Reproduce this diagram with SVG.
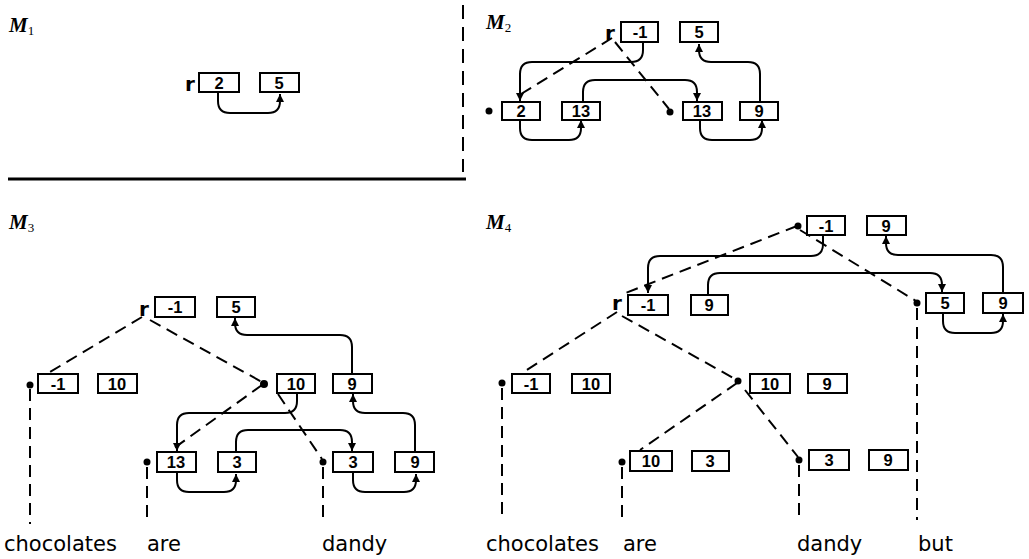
<svg xmlns="http://www.w3.org/2000/svg" width="1029" height="559" viewBox="0 0 1029 559">
<style>
.bx{fill:#fff;stroke:#000;stroke-width:2}
.num{font-family:"Liberation Sans",Arial,sans-serif;font-weight:bold;font-size:16.5px;text-anchor:middle}
.lbl{font-family:"Liberation Serif",serif;font-weight:bold;font-style:italic;font-size:21px}
.sub{font-family:"Liberation Serif",serif;font-size:13px;font-style:normal;font-weight:normal}
.r{font-family:"DejaVu Sans",sans-serif;font-size:20px;font-weight:bold}
.word{font-family:"DejaVu Sans",sans-serif;font-size:21px}
.dash{fill:none;stroke:#000;stroke-width:2;stroke-dasharray:12 7}
.cv{fill:none;stroke:#000;stroke-width:2;marker-end:url(#ah)}
.dot{fill:#000}
</style>
<defs>
<marker id="ah" markerUnits="userSpaceOnUse" markerWidth="9" markerHeight="9" refX="8" refY="4" orient="auto">
<path d="M0,0 L8,4 L0,8 Z" fill="#000"/>
</marker>
</defs>
<rect width="1029" height="559" fill="#fff"/>

<!-- frame lines -->
<g id="frame">
<line x1="8" y1="179" x2="466" y2="179" stroke="#000" stroke-width="3"/>
<line x1="463" y1="5" x2="463" y2="172" stroke="#000" stroke-width="2" stroke-dasharray="14 8"/>
</g>

<!-- panel labels -->
<g id="labels">
<text class="lbl" x="9" y="32">M<tspan class="sub" dy="3">1</tspan></text>
<text class="lbl" x="486" y="29">M<tspan class="sub" dy="3">2</tspan></text>
<text class="lbl" x="9" y="229">M<tspan class="sub" dy="3">3</tspan></text>
<text class="lbl" x="486" y="229">M<tspan class="sub" dy="3">4</tspan></text>
</g>

<!-- connectors -->
<g id="connectors">
<!-- M1 -->
<path class="cv" d="M218 92 V101 Q218 113 230 113 H268 Q280 113 280 101 V94"/>
<!-- M2 -->
<line class="dash" x1="612" y1="38" x2="521" y2="94"/>
<line class="dash" x1="615" y1="42" x2="669" y2="109"/>
<path class="cv" d="M643 43 V50 Q643 62 631 62 H532 Q520 62 520 74 V101"/>
<path class="cv" d="M583 102 V92 Q583 80 595 80 H685 Q697 80 697 92 V101"/>
<path class="cv" d="M760 102 V74 Q760 62 748 62 H711 Q699 62 699 50 V44"/>
<path class="cv" d="M520 119 V128 Q520 140 532 140 H569 Q581 140 581 128 V120"/>
<path class="cv" d="M700 119 V128 Q700 140 712 140 H750 Q762 140 762 128 V120"/>
<!-- M3 -->
<line class="dash" x1="142" y1="317" x2="50" y2="372"/>
<line class="dash" x1="150" y1="320" x2="262" y2="382"/>
<line class="dash" x1="262" y1="385" x2="170" y2="451"/>
<line class="dash" x1="278" y1="394" x2="322" y2="459"/>
<line class="dash" x1="30" y1="389" x2="30" y2="524"/>
<line class="dash" x1="147" y1="467" x2="147" y2="524"/>
<line class="dash" x1="323" y1="467" x2="323" y2="524"/>
<path class="cv" d="M352 373 V347 Q352 335 340 335 H247 Q235 335 235 323 V318"/>
<path class="cv" d="M297 393 V401 Q297 413 285 413 H189 Q177 413 177 425 V451"/>
<path class="cv" d="M236 452 V442 Q236 430 248 430 H340 Q352 430 352 442 V451"/>
<path class="cv" d="M415 452 V425 Q415 413 403 413 H365 Q353 413 353 401 V394"/>
<path class="cv" d="M177 473 V480 Q177 492 189 492 H224 Q236 492 236 480 V474"/>
<path class="cv" d="M353 473 V480 Q353 492 365 492 H404 Q416 492 416 480 V474"/>
<!-- M4 -->
<line class="dash" x1="797" y1="226" x2="623" y2="294"/>
<line class="dash" x1="800" y1="230" x2="916" y2="301"/>
<line class="dash" x1="617" y1="312" x2="522" y2="373"/>
<line class="dash" x1="622" y1="316" x2="737" y2="380"/>
<line class="dash" x1="737" y1="383" x2="640" y2="450"/>
<line class="dash" x1="745" y1="390" x2="798" y2="457"/>
<line class="dash" x1="502" y1="388" x2="502" y2="520"/>
<line class="dash" x1="622" y1="467" x2="622" y2="520"/>
<line class="dash" x1="799" y1="465" x2="799" y2="520"/>
<line class="dash" x1="917" y1="308" x2="917" y2="520"/>
<path class="cv" d="M823 235 V244 Q823 256 811 256 H660 Q648 256 648 268 V293"/>
<path class="cv" d="M708 294 V285 Q708 273 720 273 H930 Q942 273 942 285 V292"/>
<path class="cv" d="M1003 293 V267 Q1003 255 991 255 H898 Q886 255 886 243 V236"/>
<path class="cv" d="M943 313 V321 Q943 333 955 333 H991 Q1003 333 1003 321 V314"/>
</g>

<!-- M1 nodes -->
<g id="m1-root">
<text class="r" x="185" y="91">r</text>
<rect class="bx" x="199" y="73" width="40" height="19"/><text class="num" x="219" y="89">2</text>
<rect class="bx" x="260" y="73" width="39" height="19"/><text class="num" x="279" y="89">5</text>
</g>

<!-- M2 nodes -->
<g id="m2-root">
<text class="r" x="605" y="40">r</text>
<rect class="bx" x="621" y="22" width="37" height="20"/><text class="num" x="640" y="38">-1</text>
<rect class="bx" x="680" y="22" width="38" height="20"/><text class="num" x="699" y="38">5</text>
</g>
<g id="m2-n1">
<circle class="dot" cx="489" cy="111" r="3.5"/>
<rect class="bx" x="502" y="102" width="38" height="18"/><text class="num" x="521" y="117">2</text>
<rect class="bx" x="562" y="102" width="38" height="18"/><text class="num" x="581" y="117">13</text>
</g>
<g id="m2-n2">
<circle class="dot" cx="670" cy="112" r="3.5"/>
<rect class="bx" x="683" y="102" width="39" height="18"/><text class="num" x="702" y="117">13</text>
<rect class="bx" x="740" y="102" width="38" height="18"/><text class="num" x="759" y="117">9</text>
</g>

<!-- M3 nodes -->
<g id="m3-root">
<text class="r" x="139" y="316">r</text>
<rect class="bx" x="155" y="297" width="40" height="20"/><text class="num" x="175" y="313">-1</text>
<rect class="bx" x="217" y="297" width="38" height="20"/><text class="num" x="236" y="313">5</text>
</g>
<g id="m3-chocolates">
<circle class="dot" cx="30" cy="385" r="3.5"/>
<rect class="bx" x="38" y="374" width="40" height="19"/><text class="num" x="58" y="390">-1</text>
<rect class="bx" x="98" y="374" width="39" height="19"/><text class="num" x="117" y="390">10</text>
</g>
<g id="m3-mid">
<circle class="dot" cx="264" cy="384" r="4"/>
<rect class="bx" x="277" y="374" width="38" height="19"/><text class="num" x="296" y="390">10</text>
<rect class="bx" x="333" y="374" width="39" height="19"/><text class="num" x="352" y="390">9</text>
</g>
<g id="m3-are">
<circle class="dot" cx="147" cy="462" r="3.5"/>
<rect class="bx" x="157" y="452" width="39" height="20"/><text class="num" x="176" y="468">13</text>
<rect class="bx" x="218" y="452" width="38" height="20"/><text class="num" x="237" y="468">3</text>
</g>
<g id="m3-dandy">
<circle class="dot" cx="323" cy="462" r="3.5"/>
<rect class="bx" x="333" y="452" width="40" height="20"/><text class="num" x="353" y="468">3</text>
<rect class="bx" x="395" y="452" width="39" height="20"/><text class="num" x="415" y="468">9</text>
</g>
<g id="m3-words">
<text class="word" x="4" y="551">chocolates</text>
<text class="word" x="147" y="551">are</text>
<text class="word" x="322" y="551">dandy</text>
</g>

<!-- M4 nodes -->
<g id="m4-root">
<circle class="dot" cx="798" cy="226" r="3.5"/>
<rect class="bx" x="807" y="216" width="38" height="19"/><text class="num" x="826" y="232">-1</text>
<rect class="bx" x="867" y="216" width="39" height="19"/><text class="num" x="886" y="232">9</text>
</g>
<g id="m4-left">
<text class="r" x="612" y="310">r</text>
<rect class="bx" x="628" y="295" width="40" height="20"/><text class="num" x="648" y="311">-1</text>
<rect class="bx" x="691" y="295" width="37" height="20"/><text class="num" x="709" y="311">9</text>
</g>
<g id="m4-but">
<circle class="dot" cx="917" cy="303" r="3.5"/>
<rect class="bx" x="926" y="293" width="38" height="20"/><text class="num" x="945" y="309">5</text>
<rect class="bx" x="983" y="293" width="40" height="20"/><text class="num" x="1003" y="309">9</text>
</g>
<g id="m4-chocolates">
<circle class="dot" cx="502" cy="383" r="3.5"/>
<rect class="bx" x="512" y="374" width="38" height="19"/><text class="num" x="531" y="390">-1</text>
<rect class="bx" x="572" y="374" width="38" height="19"/><text class="num" x="591" y="390">10</text>
</g>
<g id="m4-mid">
<circle class="dot" cx="738" cy="381" r="3.5"/>
<rect class="bx" x="750" y="374" width="40" height="19"/><text class="num" x="770" y="390">10</text>
<rect class="bx" x="808" y="374" width="39" height="19"/><text class="num" x="827" y="390">9</text>
</g>
<g id="m4-are">
<circle class="dot" cx="622" cy="462" r="3.5"/>
<rect class="bx" x="630" y="451" width="42" height="20"/><text class="num" x="651" y="467">10</text>
<rect class="bx" x="692" y="451" width="37" height="20"/><text class="num" x="710" y="467">3</text>
</g>
<g id="m4-dandy">
<circle class="dot" cx="799" cy="460" r="3.5"/>
<rect class="bx" x="809" y="450" width="40" height="20"/><text class="num" x="829" y="466">3</text>
<rect class="bx" x="869" y="450" width="39" height="20"/><text class="num" x="888" y="466">9</text>
</g>
<g id="m4-words">
<text class="word" x="486" y="551">chocolates</text>
<text class="word" x="623" y="551">are</text>
<text class="word" x="797" y="551">dandy</text>
<text class="word" x="918" y="551">but</text>
</g>
</svg>
